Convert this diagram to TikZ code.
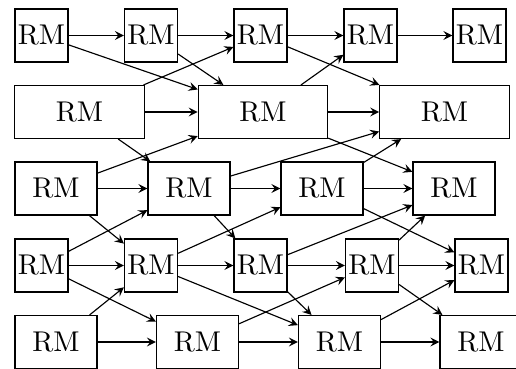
\documentclass[tikz,border=0pt]{standalone}
\usetikzlibrary{arrows}
\begin{document}
\begin{tikzpicture}[x=0.35pt,y=-0.35pt,>=stealth,
  bx/.style={draw, inner sep=0pt, minimum height=18.55pt},
  sm/.style={bx, minimum width=18.55pt},
  md/.style={bx, minimum width=28.7pt},
  wd/.style={bx, minimum width=45.3pt},
  ed/.style={->}]
\useasboundingbox (0,0) rectangle (516,369);
% row 1
\node[sm] (a1) at (41.5,35.5) {RM};
\node[sm] (a2) at (151,35.5) {RM};
\node[sm] (a3) at (260.5,35.5) {RM};
\node[sm] (a4) at (370.5,35.5) {RM};
\node[sm] (a5) at (479.5,35.5) {RM};
% row 2
\node[wd] (b1) at (79.5,112) {RM};
\node[wd] (b2) at (263,112) {RM};
\node[wd] (b3) at (444.5,112) {RM};
% row 3
\node[md] (c1) at (56,188.5) {RM};
\node[md] (c2) at (189,188.5) {RM};
\node[md] (c3) at (322,188.5) {RM};
\node[md] (c4) at (454,188.5) {RM};
% row 4
\node[sm] (d1) at (41.5,265.5) {RM};
\node[sm] (d2) at (151,265.5) {RM};
\node[sm] (d3) at (260.5,265.5) {RM};
\node[sm] (d4) at (372,265.5) {RM};
\node[sm] (d5) at (481.5,265.5) {RM};
% row 5
\node[md] (e1) at (56,342) {RM};
\node[md] (e2) at (197.5,342) {RM};
\node[md] (e3) at (339.5,342) {RM};
\node[md] (e4) at (481,342) {RM};
% edges
\foreach \s/\t in {a1/a2,a2/a3,a3/a4,a4/a5,
  a1/b2,a2/b2,b1/a3,b1/b2,b1/c2,c1/b2,
  a3/b3,b2/a4,b2/b3,b2/c4,c2/b3,c3/b3,
  c1/c2,c2/c3,c3/c4,
  c1/d2,d1/c2,c2/d3,d2/c3,c3/d5,d3/c4,d4/c4,
  d1/d2,d2/d3,d3/d4,d4/d5,
  d1/e2,e1/d2,d2/e3,e2/d4,d3/e3,d4/e4,e3/d5,
  e1/e2,e2/e3,e3/e4}
  \draw[ed] (\s) -- (\t);
\end{tikzpicture}
\end{document}
